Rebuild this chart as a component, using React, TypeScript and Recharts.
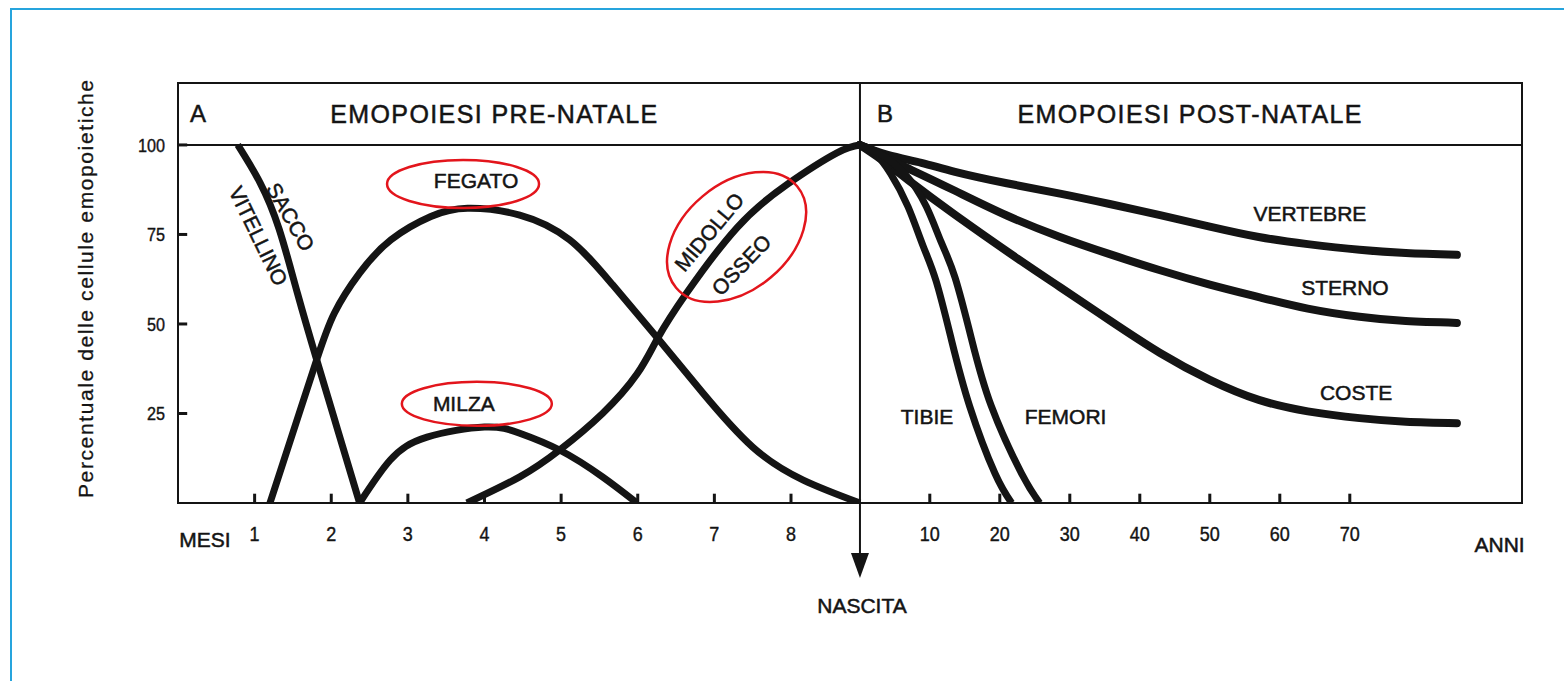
import { LineChart, Line, XAxis, YAxis, ReferenceLine, ReferenceArea, ReferenceDot } from 'recharts';

const FONT = "'Liberation Sans', Arial, Helvetica, sans-serif";
const INK = '#141414';
const RED = '#e3151c';

// asse dei mesi: la nascita cade poco prima del "9" nel disegno
const BIRTH = 8.9;
const MONTH_MAX = 17.54;
const YEAR_MIN = -97.4;
const YEAR_MAX = 94.6;
const PCT_TOP = 117.3;
// lunghezza delle tacche interne, in unità degli assi
const MARK_V = 2.6;
const MARK_M = 0.12;

const monthTicks = [1, 2, 3, 4, 5, 6, 7, 8];
const yearTicks = [10, 20, 30, 40, 50, 60, 70];
const pctTicks = [25, 50, 75, 100];

type MPoint = { m: number; v: number };
type YPoint = { yr: number; v: number };

// emopoiesi pre-natale (mesi)
const saccoVitellino: MPoint[] = [
  { m: 0.78, v: 100 }, { m: 1.07, v: 89.5 }, { m: 1.32, v: 76.5 }, { m: 1.56, v: 58.5 },
  { m: 1.81, v: 40 }, { m: 2.09, v: 20 }, { m: 2.37, v: 0 },
];
const fegato: MPoint[] = [
  { m: 1.2, v: 0 }, { m: 1.5, v: 19.7 }, { m: 1.81, v: 40 }, { m: 2.04, v: 53 }, { m: 2.37, v: 64.2 },
  { m: 2.78, v: 73.5 }, { m: 3.3, v: 80 }, { m: 3.78, v: 82.3 }, { m: 4.46, v: 80.4 },
  { m: 5.11, v: 73.5 }, { m: 5.67, v: 61 }, { m: 6.26, v: 46 }, { m: 6.85, v: 30.7 },
  { m: 7.5, v: 15.6 }, { m: 8.16, v: 6.4 }, { m: BIRTH, v: 0 },
];
const milza: MPoint[] = [
  { m: 2.37, v: 0 }, { m: 2.77, v: 12 }, { m: 3.25, v: 18.4 }, { m: 4.0, v: 21.2 },
  { m: 4.46, v: 19.5 }, { m: 4.98, v: 14.8 }, { m: 5.54, v: 7.3 }, { m: 5.99, v: 0 },
];
const midolloOsseo: MPoint[] = [
  { m: 3.77, v: 0 }, { m: 4.46, v: 7.3 }, { m: 4.98, v: 14.8 }, { m: 5.54, v: 25 },
  { m: 5.99, v: 36 }, { m: 6.26, v: 46 }, { m: 6.64, v: 58.7 }, { m: 7.3, v: 77 },
  { m: 7.95, v: 89 }, { m: 8.6, v: 97.8 }, { m: BIRTH, v: 100 },
];

// emopoiesi post-natale (anni)
const vertebre: YPoint[] = [
  { yr: 0, v: 100 }, { yr: 4, v: 97.2 }, { yr: 8.8, v: 95 }, { yr: 13.6, v: 92.5 },
  { yr: 21, v: 89.3 }, { yr: 28.6, v: 86.4 }, { yr: 35.7, v: 83.5 }, { yr: 42.9, v: 80.4 },
  { yr: 50, v: 77.2 }, { yr: 57, v: 74.3 }, { yr: 64, v: 72.3 }, { yr: 71.4, v: 70.7 },
  { yr: 78, v: 69.8 }, { yr: 85.3, v: 69.3 },
];
const sterno: YPoint[] = [
  { yr: 0, v: 100 }, { yr: 3, v: 97 }, { yr: 7.4, v: 93 }, { yr: 13.6, v: 87.2 },
  { yr: 21, v: 80.3 }, { yr: 28.6, v: 74.3 }, { yr: 35.7, v: 69.5 }, { yr: 42.9, v: 65 },
  { yr: 50, v: 61 }, { yr: 57, v: 57.5 }, { yr: 64, v: 54.3 }, { yr: 71.4, v: 52 },
  { yr: 78, v: 50.8 }, { yr: 85.3, v: 50.3 },
];
const coste: YPoint[] = [
  { yr: 0, v: 100 }, { yr: 3, v: 96 }, { yr: 6.9, v: 90.2 }, { yr: 13.6, v: 80.5 },
  { yr: 23.1, v: 67.5 }, { yr: 28.6, v: 60.3 }, { yr: 35.7, v: 51 }, { yr: 42.9, v: 41.9 },
  { yr: 50, v: 34.4 }, { yr: 57, v: 28.8 }, { yr: 64, v: 25.6 }, { yr: 71.4, v: 23.7 },
  { yr: 78, v: 22.7 }, { yr: 85.3, v: 22.3 },
];
const tibie: YPoint[] = [
  { yr: 0, v: 100 }, { yr: 2, v: 98 }, { yr: 4.4, v: 92 }, { yr: 6.9, v: 82.7 },
  { yr: 9, v: 72 }, { yr: 10.9, v: 62 }, { yr: 13.1, v: 45.5 }, { yr: 15.7, v: 27 },
  { yr: 19.3, v: 8.3 }, { yr: 21.7, v: 0 },
];
const femori: YPoint[] = [
  { yr: 0, v: 100 }, { yr: 2.5, v: 98 }, { yr: 6.4, v: 92 }, { yr: 9.5, v: 82.8 },
  { yr: 11.6, v: 73 }, { yr: 13.6, v: 63 }, { yr: 16, v: 45.5 }, { yr: 18.8, v: 27 },
  { yr: 23.1, v: 8.3 }, { yr: 25.7, v: 0 },
];

const preSeries = [saccoVitellino, fegato, milza, midolloOsseo];
const postSeries = [vertebre, sterno, coste, tibie, femori];

// scritte sul grafico, in coordinate dei dati
const monthNotes = [
  { text: 'A', m: 0.26, v: 108.7, size: 24 },
  { text: 'EMOPOIESI PRE-NATALE', m: 4.12, v: 108.7, width: 327, size: 25 },
  { text: 'SACCO', m: 1.47, v: 79.9, angle: 60 },
  { text: 'VITELLINO', m: 1.05, v: 74.6, angle: 64 },
  { text: 'FEGATO', m: 3.89, v: 90.2 },
  { text: 'MILZA', m: 3.73, v: 27.9 },
  { text: 'MIDOLLO', m: 6.93, v: 75.7, angle: -50 },
  { text: 'OSSEO', m: 7.35, v: 66.5, angle: -46 },
  { text: 'MESI', m: 0.35, v: -10.3 },
];
const yearNotes = [
  { text: 'B', yr: 3.6, v: 108.7, size: 24 },
  { text: 'EMOPOIESI POST-NATALE', yr: 47.1, v: 108.7, width: 344, size: 25 },
  { text: 'VERTEBRE', yr: 64.3, v: 81 },
  { text: 'STERNO', yr: 69.3, v: 60.1 },
  { text: 'COSTE', yr: 70.9, v: 31 },
  { text: 'TIBIE', yr: 9.6, v: 24.3 },
  { text: 'FEMORI', yr: 29.4, v: 24.3 },
  { text: 'ANNI', yr: 91.4, v: -11.7 },
];
const rings = [
  { m: 3.72, v: 89.1, rx: 76, ry: 24, angle: 0 },
  { m: 3.9, v: 27.7, rx: 75, ry: 22, angle: 0 },
  { m: 7.29, v: 74.3, rx: 79, ry: 53, angle: -40 },
];

const noteShape = (text: string, angle = 0, width?: number, size = 21) => (p: any) => (
  <text
    x={p.cx}
    y={p.cy}
    dy="0.36em"
    textAnchor="middle"
    fontSize={size}
    fontFamily={FONT}
    fill={INK}
    stroke={INK}
    strokeWidth={0.5}
    textLength={width}
    lengthAdjust={width ? 'spacing' : undefined}
    transform={angle ? `rotate(${angle} ${p.cx} ${p.cy})` : undefined}
  >
    {text}
  </text>
);

const ringShape = (rx: number, ry: number, angle: number) => (p: any) => (
  <ellipse
    cx={p.cx}
    cy={p.cy}
    rx={rx}
    ry={ry}
    fill="none"
    stroke={RED}
    strokeWidth={2.5}
    transform={angle ? `rotate(${angle} ${p.cx} ${p.cy})` : undefined}
  />
);

// cifre strette come nel disegno
const PctTick = (p: any) => {
  const label = String(p.payload.value);
  return (
    <text
      x={p.x}
      y={p.y}
      dy="0.36em"
      textAnchor="end"
      fontSize={19}
      fontFamily={FONT}
      fill={INK}
      stroke={INK}
      strokeWidth={0.4}
      textLength={label.length * 9}
      lengthAdjust="spacingAndGlyphs"
    >
      {label}
    </text>
  );
};

const BottomTick = (p: any) => {
  const label = String(p.payload.value);
  return (
    <text
      x={p.x}
      y={p.y}
      dy="0.71em"
      textAnchor="middle"
      fontSize={20}
      fontFamily={FONT}
      fill={INK}
      stroke={INK}
      strokeWidth={0.4}
      textLength={label.length * 10}
      lengthAdjust="spacingAndGlyphs"
    >
      {label}
    </text>
  );
};

const AxisTitle = (p: any) => {
  const vb = p.viewBox;
  const x = vb.x + 15;
  const y = vb.y + vb.height / 2 - 4;
  return (
    <text
      x={x}
      y={y}
      textAnchor="middle"
      fontSize={21}
      fontFamily={FONT}
      fill={INK}
      stroke={INK}
      strokeWidth={0.3}
      textLength={418}
      lengthAdjust="spacing"
      transform={`rotate(-90 ${x} ${y})`}
    >
      Percentuale delle cellule emopoietiche
    </text>
  );
};

const BirthArrow = (p: any) => {
  const vb = p.viewBox;
  const x = vb.x;
  const y0 = vb.y + vb.height;
  return (
    <g>
      <line x1={x} x2={x} y1={y0} y2={y0 + 55} stroke={INK} strokeWidth={2} />
      <path d={`M${x - 9},${y0 + 50} L${x + 9},${y0 + 50} L${x},${y0 + 75} Z`} fill={INK} />
      <text x={x + 2} y={y0 + 102} dy="0.36em" textAnchor="middle" fontSize={21} fontFamily={FONT} fill={INK} stroke={INK} strokeWidth={0.5}>
        NASCITA
      </text>
    </g>
  );
};

export default function App() {
  return (
    <div style={{ position: 'relative', width: 1564, height: 681, background: '#fff', overflow: 'hidden' }}>
      <style>{'body{margin:0}'}</style>
      <div
        style={{
          position: 'absolute',
          left: 10,
          top: 8,
          width: 1600,
          height: 720,
          border: '2px solid #26a4dd',
        }}
      />
      <LineChart
        width={1564}
        height={681}
        margin={{ top: 83, right: 42, bottom: 176, left: 78 }}
        style={{ position: 'absolute', left: 0, top: 0 }}
      >
        <XAxis
          xAxisId="m"
          type="number"
          dataKey="m"
          domain={[0, MONTH_MAX]}
          allowDataOverflow
          ticks={monthTicks}
          interval={0}
          height={1}
          axisLine={false}
          tickLine={false}
          tickSize={0}
          tickMargin={24}
          tick={BottomTick}
        />
        <XAxis
          xAxisId="y"
          type="number"
          dataKey="yr"
          domain={[YEAR_MIN, YEAR_MAX]}
          allowDataOverflow
          ticks={yearTicks}
          interval={0}
          height={1}
          axisLine={false}
          tickLine={false}
          tickSize={0}
          tickMargin={23}
          tick={BottomTick}
        />
        <YAxis
          type="number"
          domain={[0, PCT_TOP]}
          allowDataOverflow
          ticks={pctTicks}
          interval={0}
          width={100}
          axisLine={false}
          tickLine={false}
          tickSize={0}
          tickMargin={13}
          tick={PctTick}
          label={AxisTitle}
        />

        <ReferenceArea
          xAxisId="m"
          x1={0}
          x2={MONTH_MAX}
          y1={0}
          y2={PCT_TOP}
          fill="none"
          fillOpacity={0}
          stroke={INK}
          strokeWidth={2}
          ifOverflow="visible"
        />
        <ReferenceLine xAxisId="m" y={100} stroke={INK} strokeWidth={2} />
        <ReferenceLine xAxisId="m" x={BIRTH} stroke={INK} strokeWidth={2} label={BirthArrow} />

        {pctTicks.map((t) => (
          <ReferenceLine
            key={`pt-${t}`}
            xAxisId="m"
            segment={[{ x: 0, y: t }, { x: MARK_M, y: t }]}
            stroke={INK}
            strokeWidth={3}
            ifOverflow="visible"
          />
        ))}
        {monthTicks.map((t) => (
          <ReferenceLine
            key={`mt-${t}`}
            xAxisId="m"
            segment={[{ x: t, y: 0 }, { x: t, y: MARK_V }]}
            stroke={INK}
            strokeWidth={3}
            ifOverflow="visible"
          />
        ))}
        {yearTicks.map((t) => (
          <ReferenceLine
            key={`yt-${t}`}
            xAxisId="y"
            segment={[{ x: t, y: 0 }, { x: t, y: MARK_V }]}
            stroke={INK}
            strokeWidth={3}
            ifOverflow="visible"
          />
        ))}

        {preSeries.map((d, i) => (
          <Line
            key={`pre-${i}`}
            xAxisId="m"
            data={d}
            dataKey="v"
            type="natural"
            stroke={INK}
            strokeWidth={7}
            dot={false}
            activeDot={false}
            isAnimationActive={false}
          />
        ))}
        {postSeries.map((d, i) => (
          <Line
            key={`post-${i}`}
            xAxisId="y"
            data={d}
            dataKey="v"
            type="natural"
            stroke={INK}
            strokeWidth={i < 3 ? 8 : 7}
            strokeLinecap={i < 3 ? 'round' : 'butt'}
            dot={false}
            activeDot={false}
            isAnimationActive={false}
          />
        ))}

        {rings.map((r, i) => (
          <ReferenceDot
            key={`ring-${i}`}
            xAxisId="m"
            x={r.m}
            y={r.v}
            r={1}
            ifOverflow="visible"
            shape={ringShape(r.rx, r.ry, r.angle)}
          />
        ))}
        {monthNotes.map((n) => (
          <ReferenceDot
            key={n.text}
            xAxisId="m"
            x={n.m}
            y={n.v}
            r={1}
            ifOverflow="visible"
            shape={noteShape(n.text, n.angle ?? 0, n.width, n.size ?? 21)}
          />
        ))}
        {yearNotes.map((n) => (
          <ReferenceDot
            key={n.text}
            xAxisId="y"
            x={n.yr}
            y={n.v}
            r={1}
            ifOverflow="visible"
            shape={noteShape(n.text, 0, n.width, n.size ?? 21)}
          />
        ))}
      </LineChart>
    </div>
  );
}
